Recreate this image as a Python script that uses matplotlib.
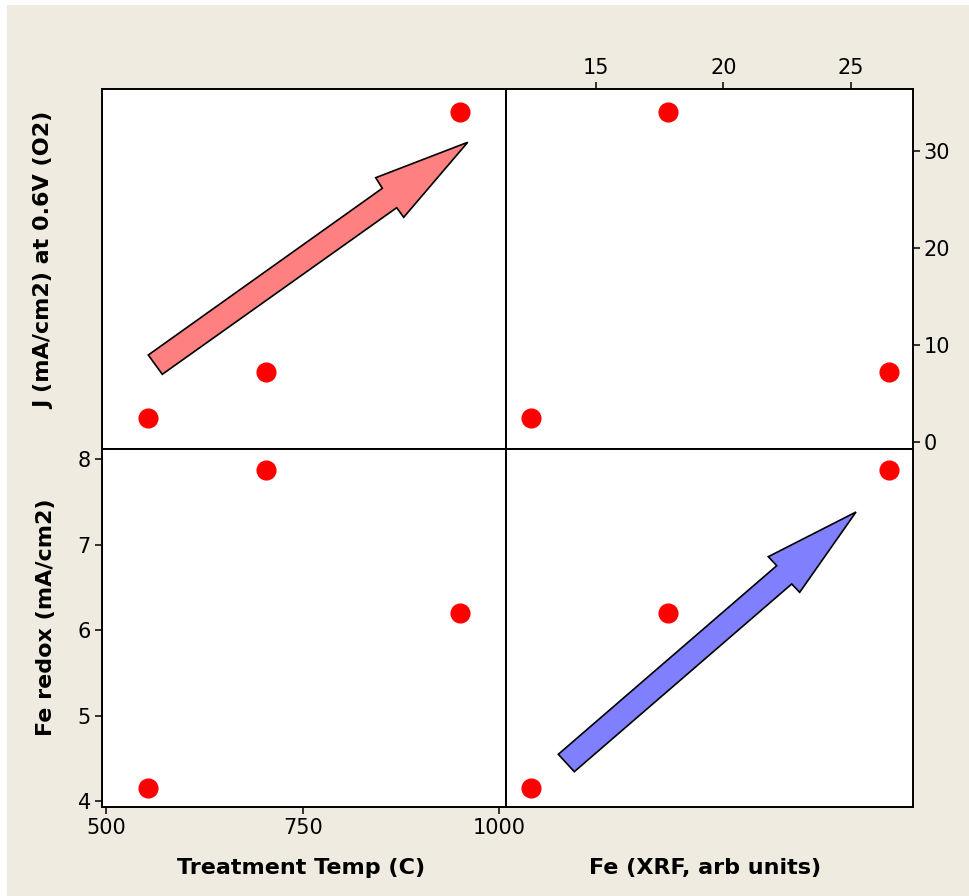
import matplotlib
matplotlib.use("Agg")
import matplotlib.pyplot as plt
from matplotlib.patches import Polygon, Rectangle

# samples (same order in every list)
temp = [553, 703, 950]          # Treatment Temp (C)
fe_xrf = [12.45, 26.49, 17.82]  # Fe (XRF, arb units)
j_o2 = [2.5, 7.23, 33.98]       # J (mA/cm2) at 0.6V (O2)
fe_redox = [4.15, 7.875, 6.195] # Fe redox (mA/cm2)

temp_ticks = [500, 750, 1000]
fe_ticks = [15, 20, 25]
j_ticks = [0, 10, 20, 30]
redox_ticks = [4, 5, 6, 7, 8]

W, H = 969, 896
fig = plt.figure(figsize=(W / 100, H / 100), dpi=100, facecolor="white")
fig.patches.append(Rectangle((7 / W, 0), 1 - 7 / W, 1 - 5 / H, transform=fig.transFigure,
                             facecolor="#efebe1", edgecolor="none", zorder=-10))

def px(x, y):
    return (x / W, 1 - y / H)

x0, xm, x1 = 102 / W, 505.6 / W, 912.7 / W
y1, ym, y0 = 1 - 89 / H, 1 - 449.3 / H, 1 - 806.7 / H

tl = fig.add_axes([x0, ym, xm - x0, y1 - ym])
tr = fig.add_axes([xm, ym, x1 - xm, y1 - ym])
bl = fig.add_axes([x0, y0, xm - x0, ym - y0])
br = fig.add_axes([xm, y0, x1 - xm, ym - y0])

tlim = (494.5, 1007.9)
flim = (11.46, 27.42)
jlim = (-0.72, 36.35)
rlim = (3.933, 8.117)

panels = [(tl, temp, j_o2, tlim, jlim), (tr, fe_xrf, j_o2, flim, jlim),
          (bl, temp, fe_redox, tlim, rlim), (br, fe_xrf, fe_redox, flim, rlim)]
for ax, xs, ys, xl, yl in panels:
    ax.plot(xs, ys, "o", color="#ff0000", markersize=13.5, zorder=5)
    ax.set_xlim(xl)
    ax.set_ylim(yl)
    ax.set_facecolor("white")
    for s in ax.spines.values():
        s.set_linewidth(1.4)
    ax.tick_params(which="both", direction="out", length=5, width=1.1, labelsize=15,
                   bottom=False, top=False, left=False, right=False,
                   labelbottom=False, labeltop=False, labelleft=False, labelright=False)

tr.set_xticks(fe_ticks)
tr.set_yticks(j_ticks)
tr.tick_params(top=True, labeltop=True, right=True, labelright=True, pad=3)
bl.set_xticks(temp_ticks)
bl.set_yticks(redox_ticks)
bl.tick_params(bottom=True, labelbottom=True, left=True, labelleft=True, pad=3)

lab = dict(fontsize=16, fontweight="bold", ha="center", va="center")
fig.text(*px(301, 868), "Treatment Temp (C)", **lab)
fig.text(*px(705, 868), "Fe (XRF, arb units)", **lab)
fig.text(*px(44, 260), "J (mA/cm2) at 0.6V (O2)", rotation=90, **lab)
fig.text(*px(46, 617), "Fe redox (mA/cm2)", rotation=90, **lab)

# trend arrows
red_arrow = [(148.3, 355), (382.3, 188.3), (375.7, 177.7), (467.7, 142.3),
             (403.7, 217.3), (396.7, 207.7), (162.3, 374.3)]
blue_arrow = [(558.3, 754.3), (776.7, 565.7), (768.3, 556.7), (856, 512),
              (799.7, 592.3), (791.7, 584), (574.3, 771.7)]
for pts, col in [(red_arrow, "#ff8080"), (blue_arrow, "#8080ff")]:
    fig.patches.append(Polygon([px(x, y) for x, y in pts], closed=True, transform=fig.transFigure,
                               facecolor=col, edgecolor="black", linewidth=1.2, zorder=10))

fig.savefig("out.png", dpi=100, facecolor=fig.get_facecolor())
